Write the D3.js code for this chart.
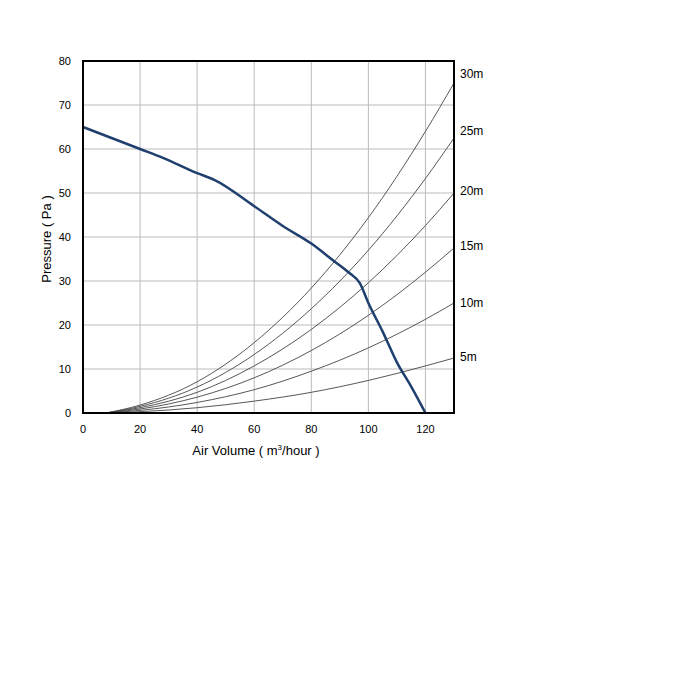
<!DOCTYPE html>
<html><head><meta charset="utf-8">
<script src="https://cdn.jsdelivr.net/npm/d3@7"></script>
<style>body{margin:0;background:#fff}</style>
</head><body>
<script>
// data
const fanQ = [0, 10, 20, 28, 40, 46, 60, 70, 80, 88, 93, 97, 100, 105, 110, 115, 120];
const fanP = [65, 62.5, 60, 58, 54.5, 53, 47, 42.5, 38.5, 34.5, 32, 29.5, 25, 18.5, 11.5, 6, 0];
const sysQ = [8, 20, 40, 60, 80, 100, 120, 130];
const sysCurves = [
  {name: "30m", p: [0, 1.8, 7.1, 16, 28.4, 44.4, 64, 75]},
  {name: "25m", p: [0, 1.5, 5.9, 13.3, 23.7, 37, 53.3, 62.5]},
  {name: "20m", p: [0, 1.2, 4.7, 10.7, 19, 29.6, 42.6, 50]},
  {name: "15m", p: [0, 0.9, 3.6, 8, 14.2, 22.2, 32, 37.5]},
  {name: "10m", p: [0, 0.6, 2.4, 5.3, 9.5, 14.8, 21.3, 25]},
  {name: "5m",  p: [0, 0.3, 1.2, 2.7, 4.7, 7.4, 10.7, 12.5]}
];
const labelY = [77, 64, 50.5, 38, 25, 12.7];
const xTicks = [0, 20, 40, 60, 80, 100, 120];
const yTicks = [0, 10, 20, 30, 40, 50, 60, 70, 80];

const svg = d3.select("body").append("svg").attr("width", 700).attr("height", 700)
  .style("font-family", "Arial, 'Liberation Sans', sans-serif");
const x = d3.scaleLinear().domain([0, 130]).range([83, 454]);
const y = d3.scaleLinear().domain([0, 80]).range([413, 61]);

// grid
svg.append("g").selectAll("line").data(xTicks.slice(1)).join("line")
  .attr("x1", d => x(d)).attr("x2", d => x(d)).attr("y1", y(0)).attr("y2", y(80))
  .attr("stroke", "#bbb").attr("stroke-width", 1);
svg.append("g").selectAll("line").data(yTicks.slice(1)).join("line")
  .attr("x1", x(0)).attr("x2", x(130)).attr("y1", d => y(d)).attr("y2", d => y(d))
  .attr("stroke", "#bbb").attr("stroke-width", 1);

// system curves
const line = d3.line().curve(d3.curveMonotoneX);
svg.append("g").selectAll("path").data(sysCurves).join("path")
  .attr("d", c => line(sysQ.map((q, i) => [x(q), y(c.p[i])])))
  .attr("fill", "none").attr("stroke", "#444").attr("stroke-width", 0.9);

// fan curve
svg.append("path")
  .attr("d", line(fanQ.map((q, i) => [x(q), y(fanP[i])])))
  .attr("fill", "none").attr("stroke", "#1f3f6e").attr("stroke-width", 2.5);

// frame
svg.append("rect").attr("x", x(0)).attr("y", y(80)).attr("width", x(130) - x(0)).attr("height", y(0) - y(80))
  .attr("fill", "none").attr("stroke", "#000").attr("stroke-width", 2);

// ticks
svg.append("g").selectAll("text").data(xTicks).join("text")
  .attr("x", d => x(d)).attr("y", 433).attr("text-anchor", "middle")
  .attr("font-size", 11).text(d => d);
svg.append("g").selectAll("text").data(yTicks).join("text")
  .attr("x", 71).attr("y", d => y(d) + 4).attr("text-anchor", "end")
  .attr("font-size", 11).text(d => d);

// curve labels
svg.append("g").selectAll("text").data(sysCurves).join("text")
  .attr("x", 460).attr("y", (c, i) => y(labelY[i]) + 4)
  .attr("font-size", 12).text(c => c.name);

// axis titles
const xt = svg.append("text").attr("x", 256).attr("y", 455).attr("text-anchor", "middle").attr("font-size", 13);
xt.append("tspan").text("Air Volume ( m");
xt.append("tspan").attr("font-size", 8).attr("dy", -5).text("3");
xt.append("tspan").attr("dy", 5).text("/hour )");
svg.append("text").attr("transform", "translate(51,239) rotate(-90)").attr("text-anchor", "middle")
  .attr("font-size", 13).text("Pressure ( Pa )");
</script>
</body></html>
